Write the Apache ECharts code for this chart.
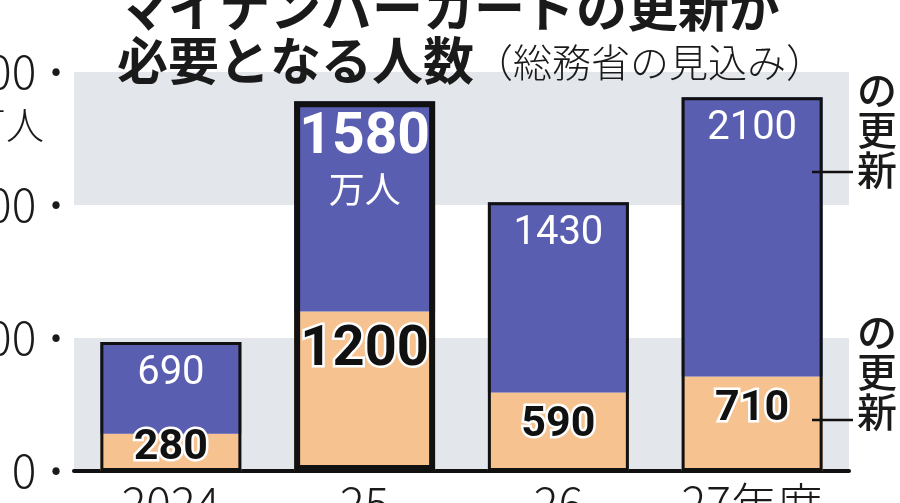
<!DOCTYPE html>
<html>
<head>
<meta charset="utf-8">
<script src="https://cdn.jsdelivr.net/npm/echarts@6/dist/echarts.min.js"></script>
<style>
  html, body { margin: 0; padding: 0; background: #fff; }
  #chart { width: 900px; height: 503px; }
</style>
</head>
<body>
<div id="chart"></div>
<script>
// 年度
var categories = ['2024', '25', '26', '27年度'];
// カードの更新（下段・オレンジ）
var cardValues = [280, 1200, 590, 710];
// 電子証明書の更新（上段・青）
var certValues = [690, 1580, 1430, 2100];
var yTicks = [0, 1000, 2000, 3000];

var jp = '"Noto Sans CJK JP", "Noto Sans", sans-serif';
var num = '"Liberation Sans Narrow", Roboto, sans-serif';

var totals = categories.map(function (c, i) { return cardValues[i] + certValues[i]; });

var dom = document.getElementById('chart');
var myChart = echarts.init(dom, null, { renderer: 'canvas' });

var option = {
  animation: false,
  backgroundColor: '#fff',
  title: {
    left: 117,
    top: -19,
    padding: 0,
    text: '{t|マイナンバーカードの更新が}\n{t|必要となる人数}{s|（総務省の見込み）}',
    textStyle: {
      rich: {
        t: { fontFamily: jp, fontSize: 51, fontWeight: 'bold', color: '#1a1a1a', lineHeight: 53 },
        s: { fontFamily: jp, fontSize: 39, fontWeight: 300, color: '#1a1a1a', lineHeight: 53, padding: [4, 0, 0, 0] }
      }
    }
  },
  grid: { left: 74, right: 51, top: 72, bottom: 32, outerBoundsMode: 'none', containLabel: false },
  xAxis: {
    type: 'category',
    data: categories,
    axisLine: { lineStyle: { color: '#111', width: 4 } },
    axisTick: { show: false },
    axisLabel: {
      interval: 0,
      hideOverlap: false,
      margin: 10,
      fontFamily: jp,
      fontSize: 46,
      fontWeight: 300,
      color: '#1a1a1a'
    }
  },
  yAxis: {
    type: 'value',
    min: 0,
    max: 3000,
    interval: 1000,
    name: '万人',
    nameLocation: 'end',
    nameGap: -53,
    nameTextStyle: {
      fontFamily: jp, fontSize: 38, fontWeight: 300, color: '#1a1a1a',
      align: 'right', verticalAlign: 'middle', padding: [0, 30, 0, 0]
    },
    axisLine: { show: false },
    axisTick: { show: false },
    splitLine: { show: false },
    splitArea: { show: true, areaStyle: { color: ['#e3e6ea', 'rgba(255,255,255,0)'] } },
    axisLabel: {
      margin: 6,
      showMinLabel: true,
      showMaxLabel: true,
      formatter: function (v) {
        return yTicks.indexOf(v) >= 0 ? '{v|' + v + '}{d|·}' : '';
      },
      rich: {
        v: { fontFamily: jp, fontSize: 46, fontWeight: 300, color: '#1a1a1a' },
        d: { fontFamily: jp, fontSize: 40, fontWeight: 'bold', color: '#1a1a1a', padding: [0, 0, 0, 8] }
      }
    }
  },
  series: [
    {
      name: 'カードの更新',
      type: 'bar',
      stack: 'total',
      barWidth: 141,
      itemStyle: { color: '#f6c290' },
      label: {
        show: true,
        position: 'insideTop',
        distance: 11,
        fontFamily: num,
        fontSize: 43,
        fontWeight: 'bold',
        color: '#111',
        textBorderColor: '#fff',
        textBorderWidth: 5
      },
      data: cardValues.map(function (v, i) {
        var d = { value: v };
        if (i === 0) d.label = { position: 'inside', offset: [0, -4] };
        if (i === 1) d.label = { fontSize: 56, distance: 12 };
        return d;
      })
    },
    {
      name: '電子証明書の更新',
      type: 'bar',
      stack: 'total',
      barWidth: 141,
      itemStyle: { color: '#5a5eb0' },
      label: {
        show: true,
        position: 'insideTop',
        distance: 12,
        fontFamily: num,
        fontSize: 40,
        color: '#fff'
      },
      data: certValues.map(function (v, i) {
        var d = { value: v };
        if (i === 1) {
          d.label = {
            distance: 8,
            formatter: '{big|{c}}\n{unit|万人}',
            rich: {
              big: { fontFamily: num, fontSize: 57, fontWeight: 'bold', color: '#fff', lineHeight: 58 },
              unit: { fontFamily: jp, fontSize: 36, color: '#fff', lineHeight: 44 }
            }
          };
        }
        return d;
      })
    },
    {
      // 棒全体の黒枠
      name: 'outline',
      type: 'bar',
      barWidth: 141,
      barGap: '-100%',
      silent: true,
      itemStyle: { color: 'rgba(0,0,0,0)', borderColor: '#111', borderWidth: 3 },
      data: totals.map(function (v, i) {
        return i === 1 ? { value: v, itemStyle: { borderWidth: 6 } } : v;
      })
    }
  ],
  graphic: [
    { type: 'line', z: 100, shape: { x1: 812, y1: 172, x2: 853, y2: 172 }, style: { stroke: '#111', lineWidth: 2.5 } },
    { type: 'line', z: 100, shape: { x1: 812, y1: 420, x2: 853, y2: 420 }, style: { stroke: '#111', lineWidth: 2.5 } },
    {
      type: 'text', z: 100, left: 857, top: 70,
      style: { text: 'の\n更\n新', font: '500 40px ' + jp, lineHeight: 40, fill: '#1a1a1a' }
    },
    {
      type: 'text', z: 100, left: 857, top: 312,
      style: { text: 'の\n更\n新', font: '500 40px ' + jp, lineHeight: 40, fill: '#1a1a1a' }
    }
  ]
};

myChart.setOption(option);
window.addEventListener('resize', myChart.resize);
</script>
</body>
</html>
